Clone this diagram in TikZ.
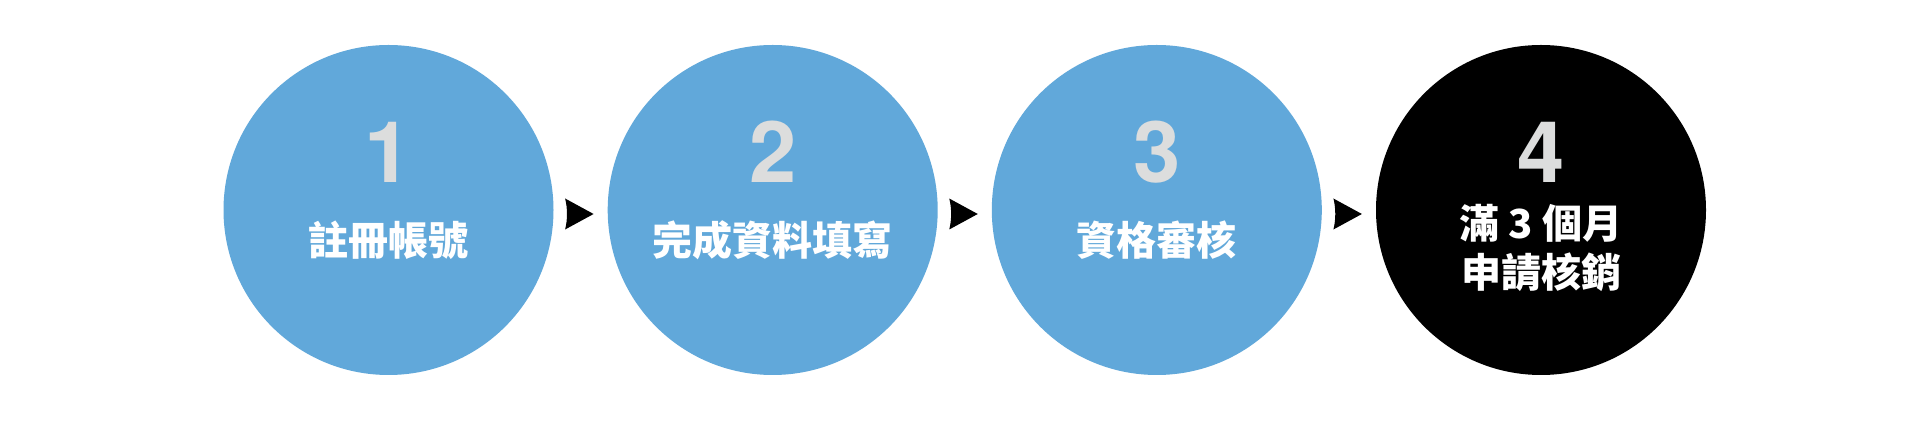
\documentclass[tikz,border=0pt]{standalone}
\usepackage{fontspec}
\setmainfont{TeX Gyre Heros}
\newfontfamily\cjk{Noto Sans CJK TC}
\usetikzlibrary{calc}
\definecolor{stepblue}{HTML}{61A8DA}
\definecolor{numgrey}{HTML}{DCDDDD}
\tikzset{
  stepcircle/.style={circle, minimum size=330pt, inner sep=0pt, draw=none},
  numlabel/.style={anchor=base, inner sep=0pt, text=numgrey, font=\fontsize{85}{85}\selectfont\bfseries},
  cjklabel/.style={anchor=base, inner sep=0pt, text=white, font=\fontsize{40}{40}\selectfont\cjk\bfseries},
  arrowtri/.style={fill=black, draw=none}
}
\begin{document}
\begin{tikzpicture}[x=1pt,y=1pt]
\useasboundingbox[fill=white] (0,0) rectangle (1920,425);
\node[stepcircle, fill=stepblue] (c1) at (388.5,215) {};
\node[stepcircle, fill=stepblue] (c2) at (772.7,215) {};
\node[stepcircle, fill=stepblue] (c3) at (1156.8,215) {};
\node[stepcircle, fill=black] (c4) at (1541,215) {};
% numbers
\node[numlabel] (n1) at (388.5,242.5) {1};
\node[numlabel] (n2) at (772.7,242.5) {2};
\node[numlabel] (n3) at (1156.8,242.5) {3};
\node[numlabel] (n4) at (1541,242.5) {4};
% labels
\node[cjklabel] (t1) at (388.5,169) {註冊帳號};
\node[cjklabel] (t2) at (772.7,169) {完成資料填寫};
\node[cjklabel] (t3) at (1156.8,169) {資格審核};
\node[cjklabel] (t4a) at (1541,186) {滿 3 個月};
\node[cjklabel] (t4b) at (1541,137) {申請核銷};
% arrows
\foreach \a/\b in {c1/c2,c2/c3,c3/c4}{
  \coordinate (m) at ($(\a.east)!0.5!(\b.west)+(0,-4)$);
  \fill[arrowtri] ($(m)+(-15.5,15.5)$) -- ($(m)+(13,0)$) -- ($(m)+(-15.5,-15.5)$)
    .. controls ($(m)+(-13,-6)$) and ($(m)+(-13,6)$) .. cycle;
}
\end{tikzpicture}
\end{document}
